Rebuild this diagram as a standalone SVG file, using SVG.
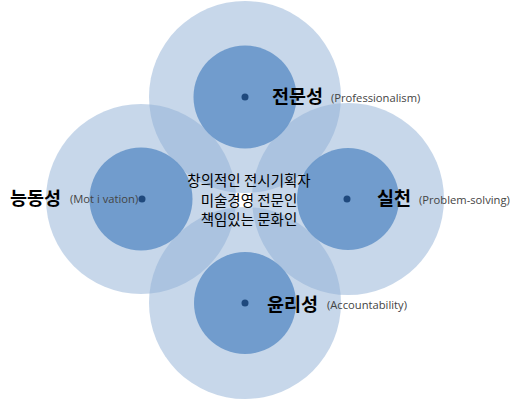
<svg xmlns="http://www.w3.org/2000/svg" width="520" height="400" viewBox="0 0 520 400">
<style>
.big{fill:#8fafd6;fill-opacity:0.5}
.small{fill:#6b98ca;fill-opacity:0.93}
.dot{fill:#1f497d}
.ko{font-family:"Noto Sans CJK KR","Noto Sans",sans-serif;fill:#000}
.lbl{font-size:18.5px;font-weight:bold}
.en{font-family:"Open Sans","Noto Sans",sans-serif;font-size:11.2px;fill:#444}
.ctr{font-size:14.5px;text-anchor:middle}
</style>
<rect width="520" height="400" fill="#fff"/>
<g id="outer-rings">
<circle class="big" cx="245" cy="97" r="96"/>
<circle class="big" cx="141" cy="199" r="95"/>
<circle class="big" cx="348" cy="199" r="96"/>
<circle class="big" cx="245" cy="303" r="96"/>
</g>
<g id="node-top">
<circle class="small" cx="245" cy="97" r="51.5"/>
<circle class="dot" cx="245" cy="97" r="3.5"/>
<text class="ko lbl" x="272" y="103">전문성</text>
<text class="en" x="331" y="102">(Professionalism)</text>
</g>
<g id="node-left">
<circle class="small" cx="141" cy="199" r="51.5"/>
<circle class="dot" cx="142" cy="199" r="3.5"/>
<text class="ko lbl" x="10" y="205">능동성</text>
<text class="en" x="70" y="203">(Mot i vation)</text>
</g>
<g id="node-right">
<circle class="small" cx="348" cy="199" r="51"/>
<circle class="dot" cx="347" cy="199" r="3.5"/>
<text class="ko lbl" x="377" y="205">실천</text>
<text class="en" x="419" y="204">(Problem-solving)</text>
</g>
<g id="node-bottom">
<circle class="small" cx="245" cy="303" r="51"/>
<circle class="dot" cx="245" cy="303" r="3.5"/>
<text class="ko lbl" x="267" y="311">윤리성</text>
<text class="en" x="327" y="309">(Accountability)</text>
</g>
<g id="center-text">
<text class="ko ctr" x="249" y="186">창의적인 전시기획자</text>
<text class="ko ctr" x="249" y="206">미술경영 전문인</text>
<text class="ko ctr" x="249" y="225">책임있는 문화인</text>
</g>
<g id="connectors"/>
</svg>
